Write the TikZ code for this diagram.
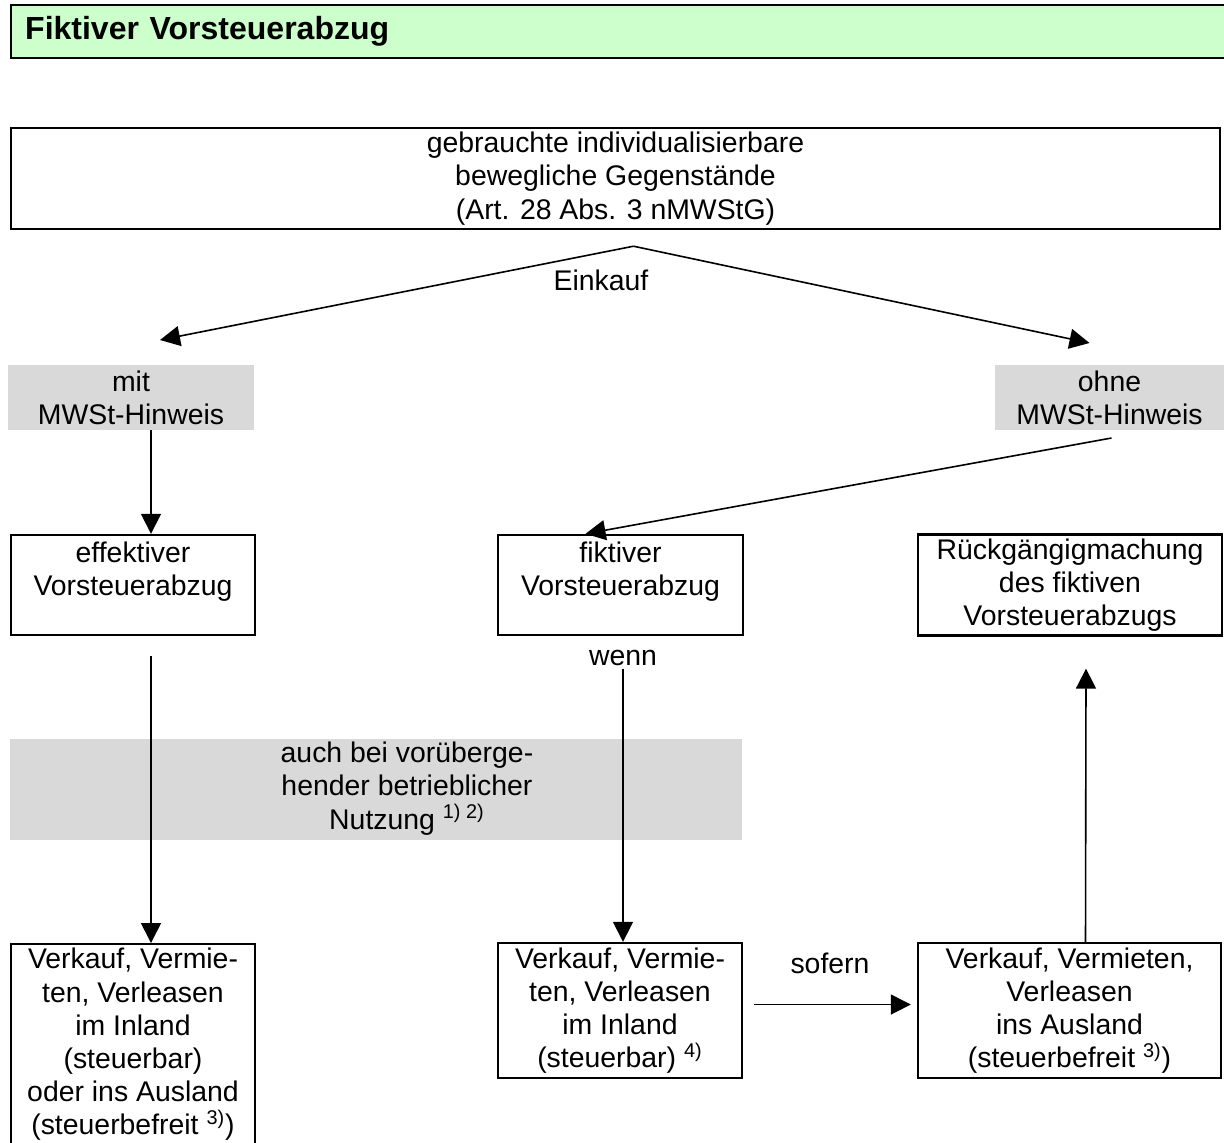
\documentclass[tikz,border=0pt]{standalone}
\usepackage{fontspec}
\setmainfont{Liberation Sans}
\usepackage{tikz}
\usetikzlibrary{arrows.meta}
\usetikzlibrary{positioning}
\definecolor{headgreen}{HTML}{CCFFCC}
\definecolor{cellgrey}{HTML}{D9D9D9}
\newcommand{\bodyfont}{\fontsize{14.2}{16.6}\selectfont}
\newcommand{\fn}[1]{\textsuperscript{#1}}

\begin{document}
\begin{tikzpicture}[x=0.5pt,y=-0.5pt,->,>={Triangle[length=10pt,width=10pt]},line width=0.8pt,font=\bodyfont]
\tikzstyle{box} = [rectangle,draw,line width=1.2pt,align=center,inner sep=2pt]
\tikzstyle{cell} = [rectangle,fill=cellgrey,align=center,inner sep=0pt,outer sep=0pt]
\tikzstyle{lbl} = [inner sep=1pt]

\useasboundingbox (0,0) rectangle (1224,1142);

% title bar
\node[rectangle,draw,line width=1.2pt,fill=headgreen,anchor=west,text width=596pt,inner xsep=7pt,
      minimum height=26.5pt,font=\fontsize{16}{19}\selectfont\bfseries] (HEAD) at (10,31.5) {Fiktiver Vorsteuerabzug};

\node[box,minimum width=604.5pt,minimum height=50.5pt] (SRC) at (615.5,178.5)
     {gebrauchte individualisierbare\\bewegliche Gegenstände\\(Art. 28 Abs. 3 nMWStG)};
\coordinate (APEX) at ([xshift=9pt,yshift=-8pt]SRC.south);
\node[lbl] (EINKAUF) at (601,280) {Einkauf};

\node[cell,minimum width=123pt,minimum height=32.5pt] (MIT) at (131,397.5) {mit\\MWSt-Hinweis};
\node[cell,minimum width=114.5pt,minimum height=32.5pt] (OHNE) at (1109.5,397.5) {ohne\\MWSt-Hinweis};

\node[box,minimum width=122pt,minimum height=50pt] (EFF) at (133,585) {effektiver\\Vorsteuerabzug\\\mbox{}};
\node[box,minimum width=122.5pt,minimum height=50pt] (FIK) at (620.5,585) {fiktiver\\Vorsteuerabzug\\\mbox{}};
\node[box,minimum width=152pt,minimum height=50pt] (RUECK) at (1070,585) {Rückgängigmachung\\des fiktiven\\Vorsteuerabzugs};
\node[lbl] (WENN) at (623,658) {wenn};

% grey band
\node[cell,minimum width=118.5pt,minimum height=50.5pt] (BAND0) at (128.5,789.5) {};
\node[cell,minimum width=160pt,minimum height=50.5pt,right=0pt of BAND0,text depth=4pt] (BAND1)
     {auch bei vorüberge-\\hender betrieblicher\\Nutzung \fn{1) 2)}};
\node[cell,minimum width=87.5pt,minimum height=50.5pt,right=0pt of BAND1] (BAND2) {};

\node[box,minimum width=122pt,anchor=north] (VK0) at (133,943)
     {Verkauf, Vermie-\\ten, Verleasen\\im Inland\\(steuerbar)\\oder ins Ausland\\(steuerbefreit \fn{3)})\\\mbox{}};
\node[box,minimum width=122pt,minimum height=67.5pt] (VK1) at (620,1010.5)
     {Verkauf, Vermie-\\ten, Verleasen\\im Inland\\(steuerbar) \fn{4)}};
\node[box,minimum width=151.5pt,minimum height=67.5pt] (VK2) at (1069.5,1010.5)
     {Verkauf, Vermieten,\\Verleasen\\ins Ausland\\(steuerbefreit \fn{3)})};

% connectors
\draw (APEX) -- ([xshift=14.5pt,yshift=12.5pt]MIT.north);
\draw (APEX) -- ([xshift=-10pt,yshift=11pt]OHNE.north);
\draw ([xshift=10pt]MIT.south) -- ([xshift=9pt]EFF.north);
\draw ([xshift=1pt,yshift=-4pt]OHNE.south) -- ([xshift=-17.5pt]FIK.north);
\draw ([xshift=9pt,yshift=-10pt]EFF.south) -- ([xshift=9pt]VK0.north);
\draw (WENN.south) -- (WENN.south |- VK1.north);
\draw[shorten <=5.5pt,shorten >=3pt] ([yshift=3pt]VK1.east) -- node[lbl,above=14pt] (SOFERN) {sofern} ([yshift=3pt]VK2.west);
\draw ([xshift=8pt]VK2.north) -- ([xshift=8pt,yshift=-16pt]RUECK.south);

\end{tikzpicture}
\end{document}
